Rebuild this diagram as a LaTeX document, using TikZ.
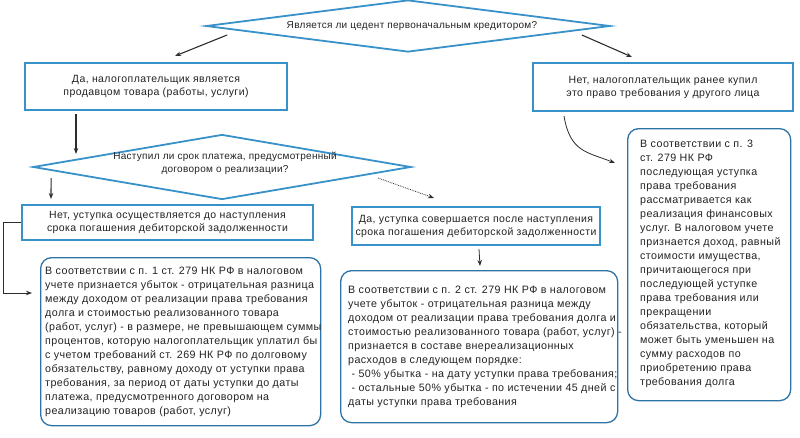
\documentclass[tikz,border=0pt]{standalone}
\usepackage{fontspec}
\setmainfont{Liberation Sans}
\newfontfamily\sqfont[LetterSpace=4]{Liberation Sans}
\newfontfamily\rtfont[LetterSpace=4]{Liberation Sans}
\newfontfamily\dfont[LetterSpace=3]{Liberation Sans}
\usetikzlibrary{shapes.geometric,arrows.meta,calc}
\definecolor{bblue}{RGB}{56,145,200}
\definecolor{rblue}{RGB}{45,115,165}
\definecolor{txt}{RGB}{35,35,35}
\definecolor{arrc}{RGB}{45,45,45}
\begin{document}
\begin{tikzpicture}[x=1pt,y=-1pt,
  every node/.style={text=txt},
  diam/.style={diamond,draw=bblue,line width=1.8pt,inner sep=0pt},
  dtext/.style={align=center,font=\dfont\fontsize{10}{13}\selectfont},
  sqbox/.style={draw=bblue,line width=2pt,fill=white,align=center,font=\sqfont\fontsize{10.5}{13}\selectfont},
  rbox/.style={draw=rblue,line width=1.3pt,rounded corners=11pt,fill=white},
  rtext/.style={anchor=west,align=left,inner sep=0pt,font=\rtfont\fontsize{10.7}{14}\selectfont},
  arr/.style={draw=arrc,line width=1.1pt,-{Stealth[length=6pt,width=4.5pt]}},
  thin arr/.style={draw=arrc,line width=0.8pt,-{Stealth[length=6pt,width=4.5pt]}}]
\useasboundingbox (0,0) rectangle (800,437);
% decision 1
\node[diam,minimum width=404,minimum height=52] (d1) at (408,26) {};
\node[dtext] (d1t) at (412,26) {Является ли цедент первоначальным кредитором?};
% level 1 boxes
\node[sqbox,minimum width=262,minimum height=47] (b1) at (156,86.5) {Да, налогоплательщик является\\продавцом товара (работы, услуги)};
\node[sqbox,minimum width=260,minimum height=48] (b2) at (663,87) {Нет, налогоплательщик ранее купил\\это право требования у другого лица};
% decision 2
\node[diam,minimum width=378,minimum height=65] (d2) at (222,167) {};
\node[dtext] (d2t) at (225,163) {Наступил ли срок платежа, предусмотренный\\договором о реализации?};
% level 2 boxes
\node[sqbox,minimum width=291,minimum height=35] (b3) at (167.5,222.5) {Нет, уступка осуществляется до наступления\\срока погашения дебиторской задолженности};
\node[sqbox,minimum width=248,minimum height=38] (b4) at (476,226) {Да, уступка совершается после наступления\\срока погашения дебиторской задолженности};
% rounded boxes
\node[rbox,anchor=north west,minimum width=280,minimum height=168] (r1) at (40,257) {};
\node[rtext] (r1t) at ($(r1.west)+(5,0)$) {В соответствии с п. 1 ст. 279 НК РФ в налоговом\\
учете признается убыток - отрицательная разница\\
между доходом от реализации права требования\\
долга и стоимостью реализованного товара\\
(работ, услуг) - в размере, не превышающем суммы\\
процентов, которую налогоплательщик уплатил бы\\
с учетом требований ст. 269 НК РФ по долговому\\
обязательству, равному доходу от уступки права\\
требования, за период от даты уступки до даты\\
платежа, предусмотренного договором на\\
реализацию товаров (работ, услуг)};
\node[rbox,anchor=north west,minimum width=277,minimum height=152] (r2) at (340,270) {};
\node[rtext] (r2t) at ($(r2.west)+(8,0)$) {В соответствии с п. 2 ст. 279 НК РФ в налоговом\\
учете убыток - отрицательная разница между\\
доходом от реализации права требования долга и\\
стоимостью реализованного товара (работ, услуг) -\\
признается в составе внереализационных\\
расходов в следующем порядке:\\
\ - 50\% убытка - на дату уступки права требования;\\
\ - остальные 50\% убытка - по истечении 45 дней с\\
даты уступки права требования};
\node[rbox,anchor=north west,minimum width=163,minimum height=272] (r3) at (627,128) {};
\node[rtext] (r3t) at ($(r3.west)+(13,-1)$) {В соответствии с п. 3\\
ст. 279 НК РФ\\
последующая уступка\\
права требования\\
рассматривается как\\
реализация финансовых\\
услуг. В налоговом учете\\
признается доход, равный\\
стоимости имущества,\\
причитающегося при\\
последующей уступке\\
права требования или\\
прекращении\\
обязательства, который\\
может быть уменьшен на\\
сумму расходов по\\
приобретению права\\
требования долга};
% connectors
\coordinate (a1s) at ($(d1.west)+(22,9)$);
\coordinate (a1e) at ($(b1.north)+(19,-6)$);
\draw[arr] (a1s) -- (a1e);
\coordinate (a2s) at ($(d1.east)+(-29,9)$);
\coordinate (a2e) at ($(b2.north)+(-31,-5)$);
\draw[arr] (a2s) -- (a2e);
\draw[arr] ($(b1.south west)+(52,3)$) -- ($(b1.south west)+(52,43)$);
\draw[arr] ($(d2.west)+(19,11)$) -- ($(b3.north west)+(30,-5)$);
\draw[thin arr,densely dotted] ($(d2.east)+(-34,11)$) -- ($(b4.north west)+(83,-8)$);
\draw[thin arr] ($(b4.south west)+(128,3)$) -- ($(r2.north west)+(140,-4)$);
\draw[draw=arrc,line width=0.8pt] (b3.west) -- ++(-18,0) coordinate (k1);
\draw[thin arr] (k1) |- ($(r1.north west)+(-8,36)$);
\draw[thin arr] ($(b2.south west)+(32,4)$) .. controls ($(b2.south west)+(38,40)$) and ($(b2.south west)+(55,40)$) .. ($(r3.north west)+(-12,35)$);
\end{tikzpicture}
\end{document}
